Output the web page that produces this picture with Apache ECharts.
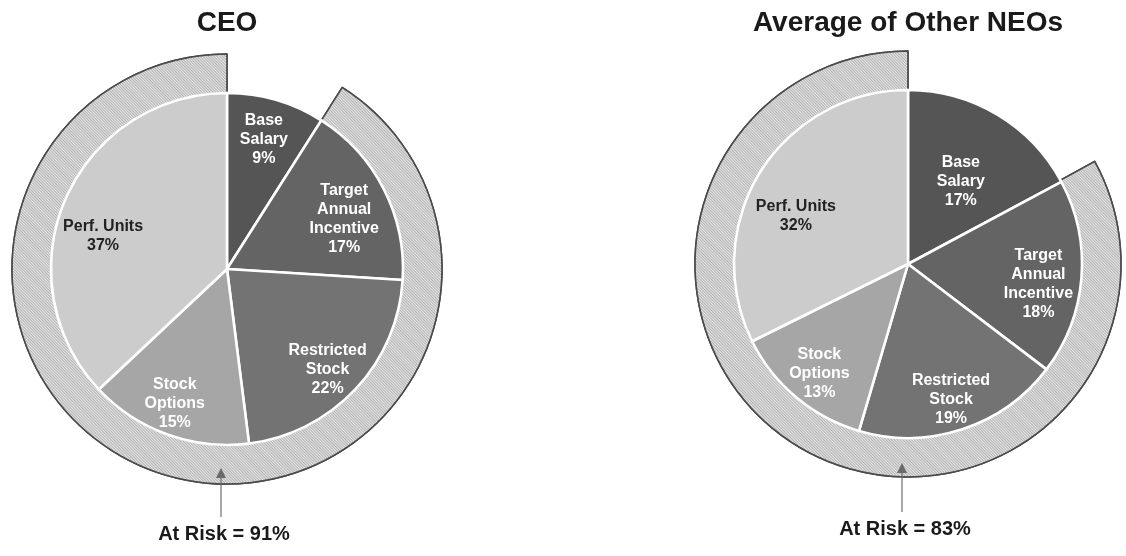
<!DOCTYPE html>
<html><head><meta charset="utf-8">
<script src="https://cdn.jsdelivr.net/npm/echarts@6/dist/echarts.min.js"></script>
<style>html,body{margin:0;padding:0;background:#fff}#c{width:1126px;height:556px}</style>
</head><body><div id="c"></div>
<script>
// ---- data ----
const categories = ['Base\nSalary', 'Target\nAnnual\nIncentive', 'Restricted\nStock', 'Stock\nOptions', 'Perf. Units'];
const ceoValues = [9, 17, 22, 15, 37];
const neoValues = [17, 18, 19, 13, 32];
const panelTitles = ['CEO', 'Average of Other NEOs'];
const atRisk = [91, 83];
const notAtRisk = [9, 17];

// ---- styles ----
const sliceColors = ['#555555', '#646464', '#737373', '#a6a6a6', '#cccccc'];
const labelColors = ['#ffffff', '#ffffff', '#ffffff', '#ffffff', '#222222'];
const ceoLabelNudge = [[-2, 4], [-7, 13], [-1, 5], [-5, 3], [4, 22]];
const neoLabelNudge = [[-18, 36], [-7, 9], [0, 5], [0, 4], [5, 25]];
const FONT = '"Liberation Sans", Arial, sans-serif';

const panels = [
  { values: ceoValues, title: panelTitles[0], risk: atRisk[0], fixed: notAtRisk[0], nudge: ceoLabelNudge, center: [227, 269], r: 176, ringR: 215 },
  { values: neoValues, title: panelTitles[1], risk: atRisk[1], fixed: notAtRisk[1], nudge: neoLabelNudge, center: [908, 264], r: 174, ringR: 213 }
];

const series = [];
const graphics = [];
panels.forEach((p, idx) => {
  // hatched "at risk" ring
  series.push({
    type: 'pie', silent: true, z: 1, startAngle: 90, clockwise: true,
    center: p.center, radius: [p.r, p.ringR],
    label: { show: false }, labelLine: { show: false }, emphasis: { disabled: true },
    data: [
      { value: p.fixed, itemStyle: { color: 'rgba(0,0,0,0)', borderWidth: 0 } },
      { value: p.risk, itemStyle: {
          color: '#e4e4e4', borderColor: '#4a4a4a', borderWidth: 1.5,
          decal: { symbol: 'rect', symbolSize: 1, color: '#b4b4b4', dashArrayX: [1, 0], dashArrayY: [1, 1], rotation: Math.PI / 4 }
        } }
    ]
  });
  // main pie
  series.push({
    type: 'pie', silent: true, z: 2, startAngle: 90, clockwise: true,
    center: p.center, radius: [0, p.r],
    label: { show: false }, labelLine: { show: false }, emphasis: { disabled: true },
    itemStyle: { borderColor: '#ffffff', borderWidth: 2.6 },
    data: categories.map((c, i) => ({ name: c, value: p.values[i], itemStyle: { color: sliceColors[i] } }))
  });
  // label carrier (transparent) so labels sit toward the outer part of slices
  series.push({
    type: 'pie', silent: true, z: 3, startAngle: 90, clockwise: true,
    center: p.center, radius: [p.r * 0.55, p.r],
    labelLine: { show: false }, emphasis: { disabled: true },
    itemStyle: { color: 'rgba(0,0,0,0)', borderWidth: 0 },
    label: {
      show: true, position: 'inside', formatter: '{b}\n{c}%',
      fontFamily: FONT, fontSize: 16, fontWeight: 'bold', lineHeight: 19, align: 'center'
    },
    data: categories.map((c, i) => ({ name: c, value: p.values[i], label: { color: labelColors[i], offset: p.nudge[i] } }))
  });

  const cx = p.center[0], cy = p.center[1];
  graphics.push({
    type: 'text', x: cx, y: 23, silent: true,
    style: { text: p.title, font: 'bold 28px ' + FONT, fill: '#1a1a1a', align: 'center', verticalAlign: 'middle' }
  });
  const ax = cx - 6;
  graphics.push({
    type: 'polygon', silent: true, z: 10,
    shape: { points: [[ax - 5, cy + 209], [ax + 5, cy + 209], [ax, cy + 199]] },
    style: { fill: '#6a6a6a' }
  });
  graphics.push({
    type: 'line', silent: true, z: 10,
    shape: { x1: ax, y1: cy + 209, x2: ax, y2: cy + 248 },
    style: { stroke: '#6e6e6e', lineWidth: 1.2 }
  });
  graphics.push({
    type: 'text', x: cx - 3, y: cy + 265, silent: true,
    style: { text: 'At Risk = ' + p.risk + '%', font: 'bold 20px ' + FONT, fill: '#1a1a1a', align: 'center', verticalAlign: 'middle' }
  });
});

const chart = echarts.init(document.getElementById('c'), null, { renderer: 'canvas' });
chart.setOption({
  backgroundColor: '#ffffff',
  animation: false,
  aria: { enabled: false },
  series: series,
  graphic: graphics
});
</script></body></html>
